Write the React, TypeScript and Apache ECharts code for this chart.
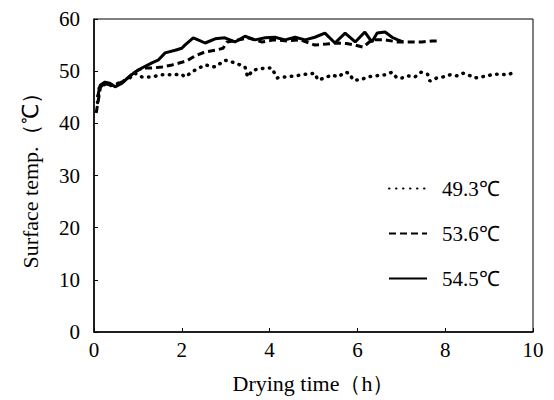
import React, { useEffect, useRef } from "react";
import * as echarts from "echarts";

const seriesNames = ["49.3℃", "53.6℃", "54.5℃"];

const t493 = [0.08, 0.12, 0.2, 0.35, 0.5, 0.65, 0.8, 0.93, 1.09, 1.32, 1.55, 1.78, 2.0, 2.07, 2.3, 2.53, 2.76, 2.98, 3.21, 3.44, 3.5, 3.62, 3.9, 4.05, 4.17, 4.35, 4.58, 4.81, 5.03, 5.1, 5.26, 5.42, 5.56, 5.72, 5.82, 5.9, 6.06, 6.24, 6.4, 6.63, 6.79, 6.9, 7.02, 7.15, 7.31, 7.45, 7.6, 7.65, 7.81, 7.95, 8.11, 8.27, 8.41, 8.52, 8.68, 8.82, 8.97, 9.09, 9.25, 9.43, 9.57];
const v493 = [44.0, 46.8, 47.5, 47.2, 47.5, 48.0, 48.6, 49.6, 48.9, 48.9, 49.3, 49.3, 49.4, 48.9, 50.2, 51.2, 50.8, 52.1, 51.6, 50.8, 48.9, 50.2, 50.6, 50.6, 48.7, 48.9, 49.1, 49.4, 49.6, 48.3, 48.7, 49.3, 48.9, 49.8, 49.6, 48.3, 48.3, 48.9, 49.1, 49.3, 49.8, 48.7, 48.7, 49.1, 48.9, 49.8, 49.4, 48.1, 48.7, 48.9, 49.3, 49.1, 49.6, 49.3, 48.7, 48.9, 49.1, 49.4, 49.4, 49.3, 49.8];

const t536 = [0.05, 0.1, 0.15, 0.25, 0.4, 0.55, 0.7, 0.85, 1.0, 1.12, 1.32, 1.55, 1.78, 2.0, 2.14, 2.3, 2.53, 2.76, 2.94, 3.03, 3.2, 3.5, 3.83, 4.1, 4.4, 4.7, 5.03, 5.3, 5.56, 5.75, 5.95, 6.13, 6.33, 6.63, 6.92, 7.24, 7.47, 7.7, 7.88];
const v536 = [42.0, 44.5, 47.0, 47.6, 47.3, 47.6, 48.2, 49.3, 50.2, 50.6, 50.6, 50.8, 51.2, 51.7, 52.1, 52.9, 53.7, 54.0, 54.4, 55.6, 55.8, 56.4, 55.6, 56.0, 55.8, 56.0, 55.0, 55.2, 55.4, 55.3, 55.0, 54.6, 56.0, 56.0, 55.6, 55.6, 55.6, 55.8, 55.8];

const t545 = [0.08, 0.14, 0.25, 0.36, 0.48, 0.64, 0.77, 0.93, 1.09, 1.32, 1.46, 1.62, 1.85, 2.0, 2.07, 2.26, 2.37, 2.53, 2.76, 2.98, 3.21, 3.44, 3.67, 3.9, 4.12, 4.35, 4.58, 4.81, 5.03, 5.26, 5.49, 5.72, 5.95, 6.17, 6.33, 6.45, 6.63, 6.79, 6.92, 7.04];
const v545 = [45.0, 47.3, 47.9, 47.7, 47.0, 47.7, 48.7, 49.8, 50.6, 51.6, 52.1, 53.5, 54.0, 54.4, 55.0, 56.4, 56.0, 55.4, 56.2, 56.4, 55.6, 56.7, 56.0, 56.4, 56.5, 56.0, 56.5, 56.0, 56.5, 57.3, 55.4, 57.3, 55.6, 57.5, 55.6, 57.3, 57.5, 56.5, 56.0, 55.6];

const xTicks = [0, 2, 4, 6, 8, 10];
const yTicks = [0, 10, 20, 30, 40, 50, 60];

const FONT = "'Liberation Serif', 'Times New Roman', serif";

const zip = (a: number[], b: number[]) => a.map((x, i) => [x, b[i]]);

export default function App() {
  const ref = useRef<HTMLDivElement>(null);
  useEffect(() => {
    if (!ref.current) return;
    const chart = echarts.init(ref.current, null, { renderer: "svg" });
    const labelText = { color: "#000", fontFamily: FONT, fontSize: 21 };
    const nameText = { color: "#000", fontFamily: FONT, fontSize: 22 };
    chart.setOption({
      animation: false,
      backgroundColor: "#fff",
      grid: {
        left: 94, right: 21, top: 19, bottom: 68,
        show: true, borderColor: "#000", borderWidth: 1,
      },
      legend: {
        orient: "vertical",
        left: 383,
        top: 173,
        itemWidth: 38,
        itemHeight: 14,
        itemGap: 24,
        data: seriesNames,
        itemStyle: { opacity: 0 },
        textStyle: { color: "#000", fontFamily: FONT, fontSize: 21, padding: [0, 0, 0, 10] },
      },
      xAxis: {
        type: "value",
        min: xTicks[0], max: xTicks[xTicks.length - 1], interval: 2,
        name: "Drying time（h）",
        nameLocation: "middle",
        nameGap: 40,
        nameTextStyle: nameText,
        axisLine: { lineStyle: { color: "#000", width: 1.5 } },
        axisTick: { inside: true, length: 4, lineStyle: { color: "#000" } },
        axisLabel: { ...labelText, margin: 7 },
        splitLine: { show: false },
      },
      yAxis: {
        type: "value",
        min: yTicks[0], max: yTicks[yTicks.length - 1], interval: 10,
        name: "Surface temp.（℃）",
        nameLocation: "middle",
        nameGap: 53,
        nameTextStyle: nameText,
        axisLine: { show: true, lineStyle: { color: "#000", width: 1.5 } },
        axisTick: { show: true, inside: true, length: 4, lineStyle: { color: "#000" } },
        axisLabel: { ...labelText, margin: 14 },
        splitLine: { show: false },
      },
      series: [
        {
          name: seriesNames[0], type: "line", symbol: "none",
          data: zip(t493, v493),
          lineStyle: { color: "#000", width: 3.5, type: [0.5, 6.5], cap: "round" },
          itemStyle: { color: "#000" },
        },
        {
          name: seriesNames[1], type: "line", symbol: "none",
          data: zip(t536, v536),
          lineStyle: { color: "#000", width: 3, type: [7, 4] },
          itemStyle: { color: "#000" },
        },
        {
          name: seriesNames[2], type: "line", symbol: "none",
          data: zip(t545, v545),
          lineStyle: { color: "#000", width: 3, type: "solid" },
          itemStyle: { color: "#000" },
        },
      ],
    });
    return () => chart.dispose();
  }, []);
  return <div ref={ref} style={{ width: 554, height: 400, position: "absolute", left: 0, top: 0 }} />;
}
